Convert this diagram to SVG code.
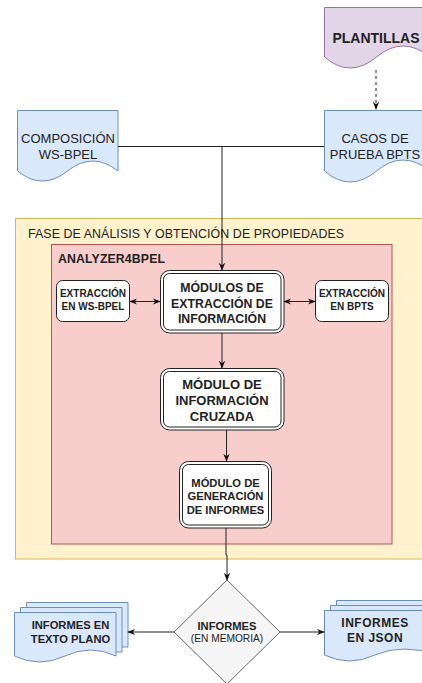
<svg xmlns="http://www.w3.org/2000/svg" width="422" height="683" viewBox="0 0 422 683">
<style>
text{font-family:"Liberation Sans",Arial,sans-serif;fill:#222;text-anchor:middle}
.b{font-weight:bold}
.doc{fill:#dae8fc;stroke:#6c8ebf;stroke-width:1}
.pur{fill:#e1d5e7;stroke:#9673a6;stroke-width:1}
.mod{fill:#fff;stroke:#222;stroke-width:1}
.c{fill:none;stroke:#222;stroke-width:1}
</style>
<defs>
<marker id="arr" viewBox="0 0 10 10" refX="9" refY="5" markerWidth="8" markerHeight="8" markerUnits="userSpaceOnUse" orient="auto-start-reverse">
<path d="M0,1 L10,5 L0,9 L3,5 Z" fill="#111"/>
</marker>
</defs>

<g id="fase">
<rect x="15.5" y="218.5" width="420" height="340.5" fill="#fff2cc" stroke="#d6b656"/>
<text x="28" y="238" style="text-anchor:start;font-size:12.4px" textLength="316">FASE DE ANÁLISIS Y OBTENCIÓN DE PROPIEDADES</text>
</g>
<g id="analyzer">
<rect x="51.5" y="244.5" width="340.5" height="299.5" fill="#f8cecc" stroke="#b85450"/>
<text x="58" y="263" class="b" style="text-anchor:start;font-size:12.3px" textLength="107">ANALYZER4BPEL</text>
</g>

<g id="plantillas">
<path class="pur" d="M324.5,7.5 H430 V57 Q403,35 376.5,57 Q350,79 324.5,57 Z"/>
<text x="376" y="43" class="b" style="font-size:14px">PLANTILLAS</text>
</g>
<g id="composicion">
<path class="doc" d="M17.5,110.5 H118 V171 Q92.75,151 67.5,171 Q42.25,191 17.5,171 Z"/>
<text x="68" y="143" style="font-size:13px">COMPOSICIÓN</text>
<text x="68" y="159" style="font-size:13px">WS-BPEL</text>
</g>
<g id="casos">
<path class="doc" d="M324.5,110.5 H430 V171 Q403,149 376.5,171 Q350,193 324.5,171 Z"/>
<text x="375" y="143" style="font-size:13px">CASOS DE</text>
<text x="375" y="159" style="font-size:13px">PRUEBA BPTS</text>
</g>

<g id="modulos">
<rect class="mod" x="160.5" y="270.5" width="123.5" height="62.5" rx="9"/>
<rect class="mod" x="163.5" y="273.5" width="117.5" height="56.5" rx="6"/>
<text x="222" y="292" class="b" style="font-size:12.3px">MÓDULOS DE</text>
<text x="222" y="307.5" class="b" style="font-size:12.3px">EXTRACCIÓN DE</text>
<text x="222" y="323" class="b" style="font-size:12.3px">INFORMACIÓN</text>
</g>
<g id="ext-wsbpel">
<rect class="mod" x="56.5" y="280.5" width="73" height="41" rx="6"/>
<text x="93" y="297" class="b" style="font-size:10px">EXTRACCIÓN</text>
<text x="93" y="310" class="b" style="font-size:10px">EN WS-BPEL</text>
</g>
<g id="ext-bpts">
<rect class="mod" x="315.5" y="280.5" width="73" height="41" rx="6"/>
<text x="352" y="297" class="b" style="font-size:10px">EXTRACCIÓN</text>
<text x="352" y="310" class="b" style="font-size:10px">EN BPTS</text>
</g>
<g id="cruzada">
<rect class="mod" x="160.5" y="368.5" width="123.5" height="61.5" rx="9"/>
<rect class="mod" x="163.5" y="371.5" width="117.5" height="55.5" rx="6"/>
<text x="222" y="388.5" class="b" style="font-size:13px">MÓDULO DE</text>
<text x="222" y="404.5" class="b" style="font-size:13px">INFORMACIÓN</text>
<text x="222" y="420.5" class="b" style="font-size:13px">CRUZADA</text>
</g>
<g id="generacion">
<rect class="mod" x="179.5" y="461.5" width="92" height="66.5" rx="9"/>
<rect class="mod" x="182.5" y="464.5" width="86" height="60.5" rx="6"/>
<text x="225.5" y="486.5" class="b" style="font-size:11.2px">MÓDULO DE</text>
<text x="225.5" y="500" class="b" style="font-size:11.2px">GENERACIÓN</text>
<text x="225.5" y="513.5" class="b" style="font-size:11.2px">DE INFORMES</text>
</g>

<g id="memoria">
<path d="M227,580 L280,632 L227,684 L174,632 Z" fill="#f5f5f5" stroke="#666"/>
<text x="227" y="630" class="b" style="font-size:11.2px">INFORMES</text>
<text x="227" y="642" style="font-size:10.2px">(EN MEMORIA)</text>
</g>
<g id="texto-plano">
<path class="doc" d="M26.5,607 V602.5 H128 V647 H122"/>
<path class="doc" d="M20.5,612 V607.5 H122 V652 H116"/>
<path class="doc" d="M14.5,612.5 H116 V656 Q90.5,644 65,656 Q39.5,668 14.5,656 Z"/>
<text x="70.5" y="629" class="b" style="font-size:11.2px">INFORMES EN</text>
<text x="70.5" y="643" class="b" style="font-size:11.2px">TEXTO PLANO</text>
</g>
<g id="json">
<path class="doc" d="M336.5,605 V600.5 H440 V650"/>
<path class="doc" d="M330.5,610 V605.5 H440 V655"/>
<path class="doc" d="M324.5,610.5 H440 V655 Q401,643 375,655 Q349.5,667 324.5,655 Z"/>
<text x="375" y="627" class="b" style="font-size:12px;letter-spacing:0.5px">INFORMES</text>
<text x="375" y="641.5" class="b" style="font-size:12px;letter-spacing:0.5px">EN JSON</text>
</g>

<g id="connectors">
<path class="c" d="M118,146.5 H324" stroke="#444"/>
<path class="c" d="M222,146.5 V270" marker-end="url(#arr)"/>
<path class="c" d="M376,70 V109" stroke-dasharray="3 3" marker-end="url(#arr)"/>
<path class="c" d="M130,301.5 H160" marker-start="url(#arr)" marker-end="url(#arr)"/>
<path class="c" d="M284,301.5 H315" marker-start="url(#arr)" marker-end="url(#arr)"/>
<path class="c" d="M222,333 V368" marker-end="url(#arr)"/>
<path class="c" d="M226.5,430 V461" marker-end="url(#arr)"/>
<path class="c" d="M226,528 V555 H227 V580" marker-end="url(#arr)"/>
<path class="c" d="M174,632 H128" marker-end="url(#arr)"/>
<path class="c" d="M280,632 H324" marker-end="url(#arr)"/>
</g>
</svg>
